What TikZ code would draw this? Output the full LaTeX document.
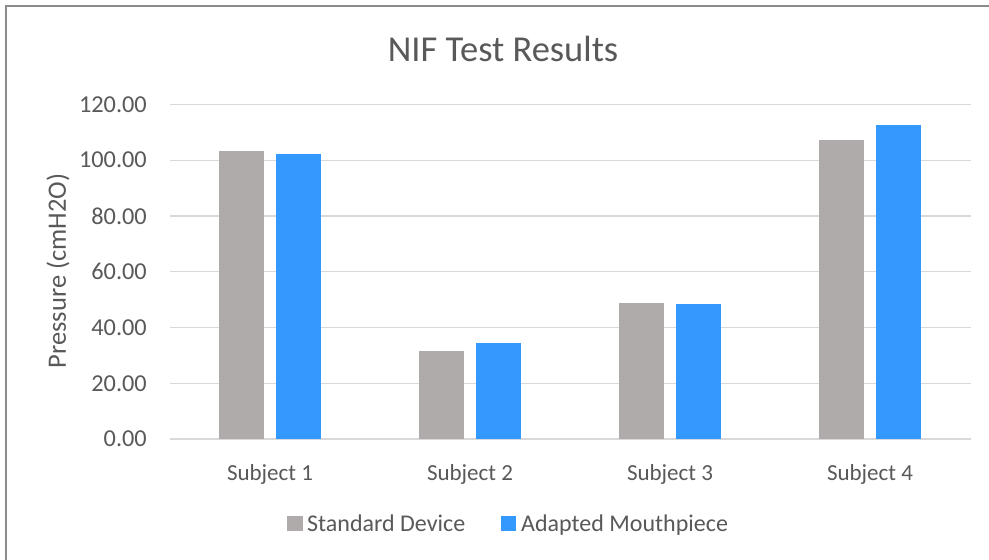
\documentclass[tikz,border=0pt]{standalone}
\usepackage{fontspec}
\setmainfont{Carlito}
\definecolor{txt}{HTML}{595959}
\definecolor{grid}{HTML}{D9D9D9}
\definecolor{stdbar}{HTML}{AFABAB}
\definecolor{adpbar}{HTML}{3399FF}
\definecolor{frame}{HTML}{8C8C8C}
\begin{document}
\begin{tikzpicture}[x=1pt,y=-1pt,
  ticklbl/.style={anchor=east,text=txt,inner sep=0pt,font=\fontsize{24.3}{28}\selectfont},
  catlbl/.style={anchor=base,text=txt,inner sep=0pt,font=\fontsize{23}{27}\selectfont},
  leglbl/.style={anchor=base west,text=txt,inner sep=0pt,font=\fontsize{24}{28}\selectfont},
  gridline/.style={draw=grid,line width=1.3pt},
  stdfill/.style={fill=stdbar},
  adpfill/.style={fill=adpbar}]
  % canvas
  \fill[white] (0,0) rectangle (989,560);
  \useasboundingbox (0,0) rectangle (989,560);
  % chart frame (left and top edges)
  \draw[frame,line width=1.6pt] (6,560) -- (6,6) -- (989,6);

  % title
  \node[anchor=base,text=txt,inner sep=0pt,font=\fontsize{36.5}{42}\selectfont] (title) at (503,61) {NIF Test Results};

  % horizontal grid lines and value labels: value v sits at y = 439 - 2.7883 v
  \foreach \v/\lab in {0/0.00,20/20.00,40/40.00,60/60.00,80/80.00,100/100.00,120/120.00}{
    \draw[gridline] (170,{439-2.7883*\v}) -- (971,{439-2.7883*\v});
    \node[ticklbl] (tick\v) at (147,{439-2.7883*\v}) {\lab};
  }

  % axis title
  \node[rotate=90,text=txt,inner sep=0pt,font=\fontsize{26.5}{30}\selectfont] (ytitle) at (58,271) {Pressure (cmH2O)};

  % bars: category centre / standard / adapted
  \foreach \c/\s/\a [count=\i] in {270/103.4/102.1, 470/31.6/34.5, 670/48.9/48.5, 870/107.1/112.5}{
    \fill[stdfill] (\c-51.5,{439-2.7883*\s}) rectangle (\c-6.5,439);
    \fill[adpfill] (\c+6,{439-2.7883*\a}) rectangle (\c+51,439);
    \node[catlbl] (cat\i) at (\c,480) {Subject \i};
  }

  % legend
  \fill[stdfill] (287,516) rectangle (303,531);
  \node[leglbl] (legstd) at (307,531) {Standard Device};
  \fill[adpfill] (501,516) rectangle (516,531);
  \node[leglbl] (legadp) at (521,531) {Adapted Mouthpiece};
\end{tikzpicture}
\end{document}
